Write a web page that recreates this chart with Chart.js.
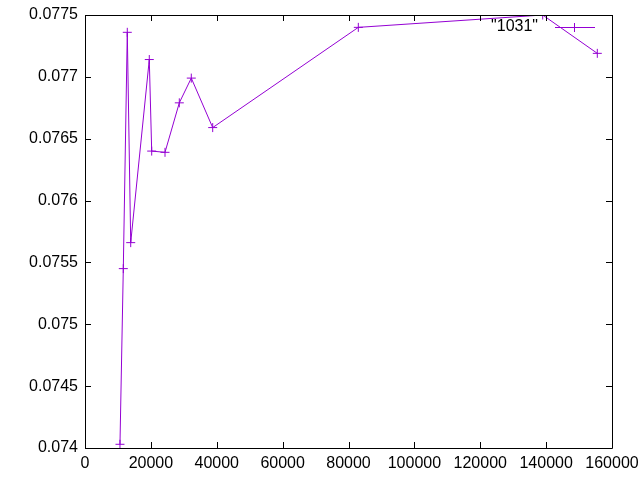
<!DOCTYPE html>
<html>
<head>
<meta charset="utf-8">
<script src="https://cdn.jsdelivr.net/npm/chart.js@4"></script>
<style>
    html, body { margin: 0; padding: 0; background: #fff; }
    #wrap { width: 640px; height: 480px; }
</style>
</head>
<body>
<div id="wrap"><canvas id="plot"></canvas></div>
<script>
// data
const seriesName = '"1031"';
const xValues = [10620, 11630, 12840, 13880, 19520, 20250, 24290, 28630, 32270, 38770, 82980, 138960, 155540];
const yValues = [0.07403, 0.07545, 0.07736, 0.07566, 0.07714, 0.0764, 0.07639, 0.07679, 0.07699, 0.07659, 0.0774, 0.0775, 0.07719];
const xTicks = [0, 20000, 40000, 60000, 80000, 100000, 120000, 140000, 160000];
const yTicks = [0.074, 0.0745, 0.075, 0.0755, 0.076, 0.0765, 0.077, 0.0775];

const lineColor = 'rgb(148, 0, 211)';
const font = { family: 'Liberation Sans, Arial, sans-serif', size: 16 };

// gnuplot style frame: box with inward ticks on all four sides, plus key in top right
const framePlugin = {
    id: 'frame',
    afterDraw(chart) {
        const ctx = chart.ctx;
        const a = chart.chartArea;
        const xs = chart.scales.x, ys = chart.scales.y;
        const len = 6;
        ctx.save();
        ctx.strokeStyle = '#000';
        ctx.lineWidth = 1;
        ctx.beginPath();
        ctx.rect(a.left + 0.5, a.top + 0.5, a.right - a.left, a.bottom - a.top);
        xTicks.forEach(v => {
            const px = Math.round(xs.getPixelForValue(v)) + 0.5;
            ctx.moveTo(px, a.bottom); ctx.lineTo(px, a.bottom - len);
            ctx.moveTo(px, a.top); ctx.lineTo(px, a.top + len);
        });
        yTicks.forEach(v => {
            const py = Math.round(ys.getPixelForValue(v)) + 0.5;
            ctx.moveTo(a.left, py); ctx.lineTo(a.left + len, py);
            ctx.moveTo(a.right, py); ctx.lineTo(a.right - len, py);
        });
        ctx.stroke();

        // key
        const ky = a.top + 12.5;
        ctx.fillStyle = '#000';
        ctx.font = font.size + 'px ' + font.family;
        ctx.textAlign = 'right';
        ctx.textBaseline = 'middle';
        ctx.fillText(seriesName, a.right - 74, ky - 1);
        ctx.strokeStyle = lineColor;
        ctx.beginPath();
        ctx.moveTo(a.right - 57, ky); ctx.lineTo(a.right - 17, ky);
        ctx.moveTo(a.right - 37.5, ky - 4.5); ctx.lineTo(a.right - 37.5, ky + 4.5);
        ctx.stroke();
        ctx.restore();
    }
};

new Chart(document.getElementById('plot'), {
    type: 'scatter',
    data: {
        datasets: [{
            label: seriesName,
            data: xValues.map((x, i) => ({ x: x, y: yValues[i] })),
            showLine: true,
            borderColor: lineColor,
            backgroundColor: lineColor,
            borderWidth: 1,
            pointStyle: 'cross',
            pointRadius: 4.5,
            pointBorderWidth: 1,
            tension: 0
        }]
    },
    options: {
        responsive: true,
        maintainAspectRatio: false,
        animation: false,
        layout: { padding: { top: 15, right: 28, left: 0, bottom: 0 } },
        plugins: {
            legend: { display: false },
            tooltip: { enabled: false }
        },
        scales: {
            x: {
                type: 'linear',
                min: 0,
                max: 160000,
                grid: { display: false, drawTicks: false },
                border: { display: false },
                afterBuildTicks: s => { s.ticks = xTicks.map(v => ({ value: v })); },
                afterFit: s => { s.height = 32; s.paddingLeft = 0; s.paddingRight = 0; },
                ticks: {
                    color: '#000',
                    font: font,
                    padding: 6,
                    maxRotation: 0,
                    autoSkip: false,
                    callback: v => String(v)
                }
            },
            y: {
                type: 'linear',
                min: 0.074,
                max: 0.0775,
                grid: { display: false, drawTicks: false },
                border: { display: false },
                afterBuildTicks: s => { s.ticks = yTicks.map(v => ({ value: v })); },
                afterFit: s => { s.width = 85; s.paddingTop = 0; s.paddingBottom = 0; },
                ticks: {
                    color: '#000',
                    font: font,
                    padding: 7,
                    autoSkip: false,
                    callback: v => String(+v.toFixed(5))
                }
            }
        }
    },
    plugins: [framePlugin]
});
</script>
</body>
</html>
